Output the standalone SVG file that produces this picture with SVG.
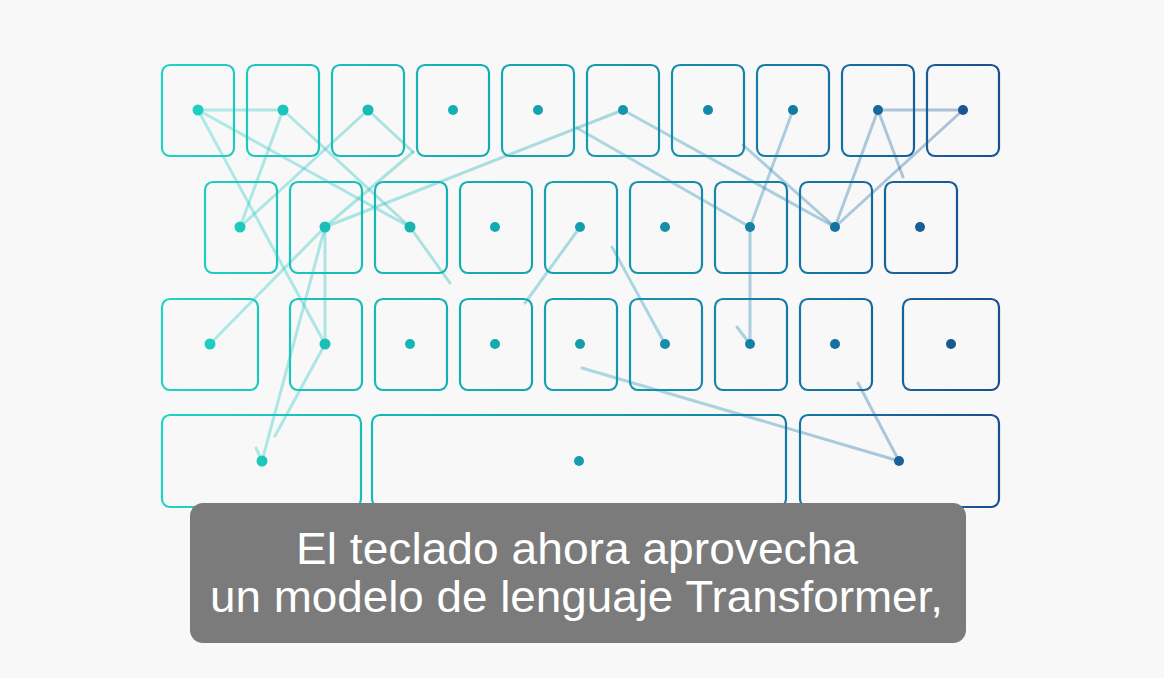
<svg xmlns="http://www.w3.org/2000/svg" width="1164" height="678" viewBox="0 0 1164 678">
  <defs>
    <linearGradient id="g" gradientUnits="userSpaceOnUse" x1="160" y1="0" x2="1000" y2="0">
      <stop offset="0" stop-color="#22d3c2"/>
      <stop offset="0.35" stop-color="#12b0b2"/>
      <stop offset="0.55" stop-color="#1596ab"/>
      <stop offset="0.75" stop-color="#147aa5"/>
      <stop offset="1" stop-color="#1a4e8e"/>
    </linearGradient>
    <style>
      .key { fill: none; stroke: url(#g); stroke-width: 2.2; }
      .dot { fill: url(#g); }
      .conn line { stroke: url(#g); stroke-width: 3; stroke-opacity: 0.34; stroke-linecap: round; fill: none; }
      .cap { font-family: "Liberation Sans", Arial, sans-serif; font-size: 45px; fill: #ffffff; }
    </style>
  </defs>
  <rect x="0" y="0" width="1164" height="678" fill="#f8f8f9"/>

  <g id="keys">
    <g id="row1">
      <rect class="key" x="162" y="65" width="72" height="91" rx="8"/>
      <rect class="key" x="247" y="65" width="72" height="91" rx="8"/>
      <rect class="key" x="332" y="65" width="72" height="91" rx="8"/>
      <rect class="key" x="417" y="65" width="72" height="91" rx="8"/>
      <rect class="key" x="502" y="65" width="72" height="91" rx="8"/>
      <rect class="key" x="587" y="65" width="72" height="91" rx="8"/>
      <rect class="key" x="672" y="65" width="72" height="91" rx="8"/>
      <rect class="key" x="757" y="65" width="72" height="91" rx="8"/>
      <rect class="key" x="842" y="65" width="72" height="91" rx="8"/>
      <rect class="key" x="927" y="65" width="72" height="91" rx="8"/>
    </g>
    <g id="row2">
      <rect class="key" x="205" y="182" width="72" height="91" rx="8"/>
      <rect class="key" x="290" y="182" width="72" height="91" rx="8"/>
      <rect class="key" x="375" y="182" width="72" height="91" rx="8"/>
      <rect class="key" x="460" y="182" width="72" height="91" rx="8"/>
      <rect class="key" x="545" y="182" width="72" height="91" rx="8"/>
      <rect class="key" x="630" y="182" width="72" height="91" rx="8"/>
      <rect class="key" x="715" y="182" width="72" height="91" rx="8"/>
      <rect class="key" x="800" y="182" width="72" height="91" rx="8"/>
      <rect class="key" x="885" y="182" width="72" height="91" rx="8"/>
    </g>
    <g id="row3">
      <rect class="key" x="162" y="299" width="96" height="91" rx="8"/>
      <rect class="key" x="290" y="299" width="72" height="91" rx="8"/>
      <rect class="key" x="375" y="299" width="72" height="91" rx="8"/>
      <rect class="key" x="460" y="299" width="72" height="91" rx="8"/>
      <rect class="key" x="545" y="299" width="72" height="91" rx="8"/>
      <rect class="key" x="630" y="299" width="72" height="91" rx="8"/>
      <rect class="key" x="715" y="299" width="72" height="91" rx="8"/>
      <rect class="key" x="800" y="299" width="72" height="91" rx="8"/>
      <rect class="key" x="903" y="299" width="96" height="91" rx="8"/>
    </g>
    <g id="row4">
      <rect class="key" x="162" y="415" width="199" height="92" rx="8"/>
      <rect class="key" x="372" y="415" width="414" height="92" rx="8"/>
      <rect class="key" x="800" y="415" width="199" height="92" rx="8"/>
    </g>
  </g>

  <g id="connectors" class="conn">
    <line x1="198" y1="110" x2="283" y2="110"/>
    <line x1="198" y1="110" x2="410" y2="227"/>
    <line x1="198" y1="110" x2="325" y2="344"/>
    <line x1="283" y1="110" x2="240" y2="227"/>
    <line x1="283" y1="110" x2="410" y2="227"/>
    <line x1="410" y1="227" x2="450" y2="283"/>
    <line x1="368" y1="110" x2="240" y2="227"/>
    <line x1="368" y1="110" x2="413" y2="152"/>
    <line x1="413" y1="152" x2="325" y2="227"/>
    <line x1="325" y1="227" x2="623" y2="110"/>
    <line x1="325" y1="227" x2="210" y2="344"/>
    <line x1="325" y1="227" x2="325" y2="344"/>
    <line x1="325" y1="227" x2="262" y2="461"/>
    <line x1="325" y1="344" x2="275" y2="436"/>
    <line x1="256" y1="448" x2="262" y2="461"/>
    <line x1="580" y1="227" x2="525" y2="303"/>
    <line x1="612" y1="247" x2="665" y2="344"/>
    <line x1="623" y1="110" x2="835" y2="227"/>
    <line x1="577" y1="128" x2="750" y2="227"/>
    <line x1="743" y1="145" x2="835" y2="227"/>
    <line x1="750" y1="227" x2="793" y2="110"/>
    <line x1="750" y1="227" x2="750" y2="344"/>
    <line x1="737" y1="327" x2="750" y2="344"/>
    <line x1="835" y1="227" x2="878" y2="110"/>
    <line x1="835" y1="227" x2="963" y2="110"/>
    <line x1="878" y1="110" x2="963" y2="110"/>
    <line x1="878" y1="110" x2="903" y2="177"/>
    <line x1="582" y1="368" x2="899" y2="461"/>
    <line x1="858" y1="383" x2="899" y2="461"/>
  </g>

  <g id="dots">
    <circle class="dot" cx="198" cy="110" r="5.5"/>
    <circle class="dot" cx="283" cy="110" r="5.5"/>
    <circle class="dot" cx="368" cy="110" r="5.5"/>
    <circle class="dot" cx="453" cy="110" r="5"/>
    <circle class="dot" cx="538" cy="110" r="5"/>
    <circle class="dot" cx="623" cy="110" r="5"/>
    <circle class="dot" cx="708" cy="110" r="5"/>
    <circle class="dot" cx="793" cy="110" r="5"/>
    <circle class="dot" cx="878" cy="110" r="5"/>
    <circle class="dot" cx="963" cy="110" r="5"/>
    <circle class="dot" cx="240" cy="227" r="5.5"/>
    <circle class="dot" cx="325" cy="227" r="5.5"/>
    <circle class="dot" cx="410" cy="227" r="5.5"/>
    <circle class="dot" cx="495" cy="227" r="5"/>
    <circle class="dot" cx="580" cy="227" r="5"/>
    <circle class="dot" cx="665" cy="227" r="5"/>
    <circle class="dot" cx="750" cy="227" r="5"/>
    <circle class="dot" cx="835" cy="227" r="5"/>
    <circle class="dot" cx="920" cy="227" r="5"/>
    <circle class="dot" cx="210" cy="344" r="5.5"/>
    <circle class="dot" cx="325" cy="344" r="5.5"/>
    <circle class="dot" cx="410" cy="344" r="5"/>
    <circle class="dot" cx="495" cy="344" r="5"/>
    <circle class="dot" cx="580" cy="344" r="5"/>
    <circle class="dot" cx="665" cy="344" r="5"/>
    <circle class="dot" cx="750" cy="344" r="5"/>
    <circle class="dot" cx="835" cy="344" r="5"/>
    <circle class="dot" cx="951" cy="344" r="5"/>
    <circle class="dot" cx="262" cy="461" r="5.5"/>
    <circle class="dot" cx="579" cy="461" r="5"/>
    <circle class="dot" cx="899" cy="461" r="5"/>
  </g>

  <g id="caption">
    <rect x="190" y="503" width="776" height="140" rx="13" fill="#7b7b7b"/>
    <text class="cap" x="296" y="564" textLength="562" lengthAdjust="spacingAndGlyphs">El teclado ahora aprovecha</text>
    <text class="cap" x="210" y="612" textLength="733" lengthAdjust="spacingAndGlyphs">un modelo de lenguaje Transformer,</text>
  </g>
</svg>
